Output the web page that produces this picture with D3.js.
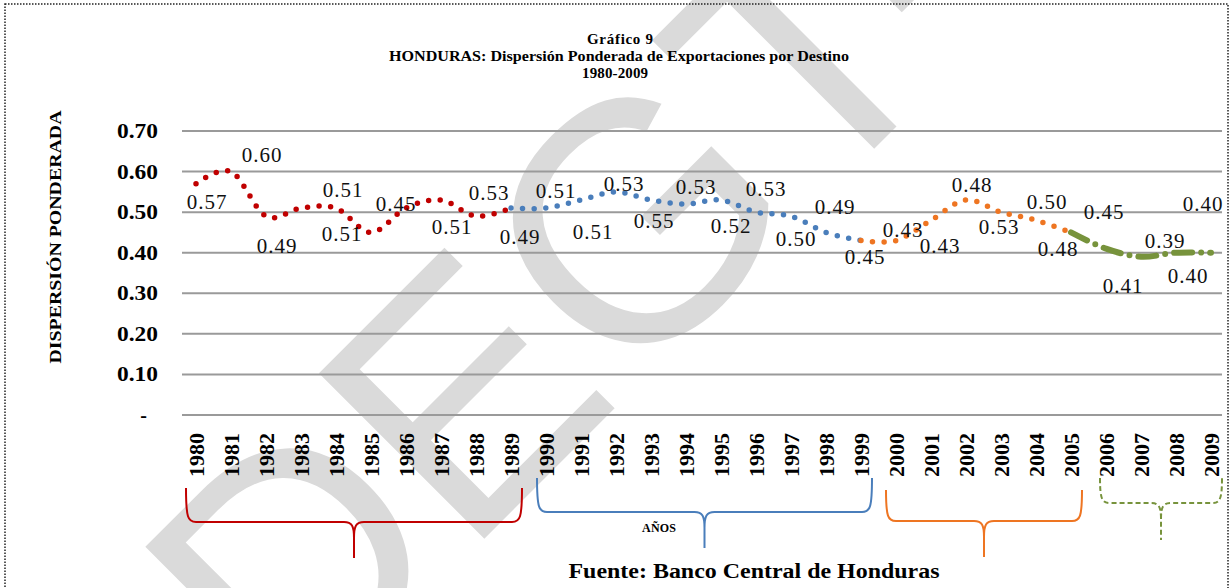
<!DOCTYPE html>
<html>
<head>
<meta charset="utf-8">
<script src="https://d3js.org/d3.v7.min.js"></script>
<style>
  body { margin: 0; background: #fff; }
  svg { display: block; }
</style>
</head>
<body>
<svg id="vis"></svg>
<script>
  // Data
  var years = ["1980","1981","1982","1983","1984","1985","1986","1987","1988","1989",
               "1990","1991","1992","1993","1994","1995","1996","1997","1998","1999",
               "2000","2001","2002","2003","2004","2005","2006","2007","2008","2009"];
  var dispersion = [0.57, 0.60, 0.49, 0.51, 0.51, 0.45, 0.51, 0.53, 0.49, 0.51,
                    0.51, 0.53, 0.55, 0.53, 0.52, 0.53, 0.50, 0.49, 0.45, 0.43,
                    0.43, 0.48, 0.53, 0.50, 0.48, 0.45, 0.41, 0.39, 0.40, 0.40];
  var yTicks = [0, 0.1, 0.2, 0.3, 0.4, 0.5, 0.6, 0.7];
  // line pieces (each one coloured on its own)
  var segmentStart = ["1980", "1989", "1999", "2005"];
  var segmentEnd   = ["1989", "1999", "2005", "2009"];
  // year groups under the axis
  var groupStart = ["1980", "1990", "2000", "2006"];
  var groupEnd   = ["1989", "1999", "2005", "2009"];

  // Styles / layout
  var colors = ["#c00000", "#4a7ebb", "#ee7522", "#77933c"];
  var dashes = ["0 11.6", "0 11.6", "0 11.6", "18 9 0 9"];
  // where each data label sits relative to its point (dx, dy)
  var labelNudge = [[11,18],[31,-17],[11,29],[42,-18],[6,26],[25,-29],[46,19],[48,-7],[44,20],[45,-17],
                    [47,24],[43,-16],[38,29],[45,-13],[45,22],[45,-11],[40,27],[44,-10],[39,24],[42,-11],
                    [44,5],[41,-36],[33,27],[46,-10],[22,28],[33,-21],[17,37],[24,-16],[12,23],[-8,-49]];

  var width = 1230, height = 588;
  var serif = "'Liberation Serif', 'Times New Roman', serif";

  var svg = d3.select("#vis")
      .attr("width", width)
      .attr("height", height);

  var x = d3.scalePoint().domain(years).range([196, 1211]);
  var y = d3.scaleLinear().domain([0, 0.7]).range([415, 131]);

  // watermark, runs off the page like in the original
  svg.append("text")
      .attr("transform", "translate(291,732) rotate(-45)")
      .attr("font-family", "'Liberation Sans', Arial, sans-serif")
      .attr("font-size", 340)
      .attr("fill", "#dadada")
      .text("DEGT-UI");

  // frame
  svg.append("rect")
      .attr("x", 5).attr("y", 4)
      .attr("width", 1223).attr("height", 600)
      .attr("fill", "none")
      .attr("stroke", "#222")
      .attr("stroke-width", 1.5)
      .attr("stroke-dasharray", "1.5 1.5");

  // title
  var title = svg.append("g")
      .attr("font-family", serif)
      .attr("font-weight", "bold")
      .attr("font-size", 15)
      .attr("text-anchor", "middle");
  title.append("text").attr("x", 620).attr("y", 44).attr("textLength", 66).text("Gráfico 9");
  title.append("text").attr("x", 619).attr("y", 61).attr("textLength", 460)
      .attr("lengthAdjust", "spacingAndGlyphs")
      .text("HONDURAS: Dispersión Ponderada de Exportaciones por Destino");
  title.append("text").attr("x", 615).attr("y", 78).attr("textLength", 66).text("1980-2009");

  // gridlines
  svg.selectAll("line.grid")
      .data(yTicks)
      .enter().append("line")
      .attr("class", "grid")
      .attr("x1", 182).attr("x2", 1222)
      .attr("y1", function(d) { return y(d); })
      .attr("y2", function(d) { return y(d); })
      .attr("stroke", "#9a9a9a")
      .attr("stroke-width", 2);

  // y tick labels
  svg.selectAll("text.ytick")
      .data(yTicks)
      .enter().append("text")
      .attr("class", "ytick")
      .attr("x", function(d) { return d === 0 ? 147 : 158; })
      .attr("y", function(d) { return y(d); })
      .attr("dy", "0.35em")
      .attr("text-anchor", "end")
      .attr("font-family", serif)
      .attr("font-weight", "bold")
      .attr("font-size", 20)
      .attr("textLength", function(d) { return d === 0 ? null : 41; })
      .attr("lengthAdjust", "spacingAndGlyphs")
      .text(function(d) { return d === 0 ? "-" : d.toFixed(2); });

  // y axis title
  svg.append("text")
      .attr("transform", "translate(61,237) rotate(-90)")
      .attr("text-anchor", "middle")
      .attr("font-family", serif)
      .attr("font-weight", "bold")
      .attr("font-size", 17)
      .attr("textLength", 253)
      .attr("lengthAdjust", "spacingAndGlyphs")
      .text("DISPERSIÓN PONDERADA");

  // year labels
  svg.selectAll("text.year")
      .data(years)
      .enter().append("text")
      .attr("class", "year")
      .attr("transform", function(d) { return "translate(" + x(d) + ",433) rotate(-90)"; })
      .attr("dy", "0.35em")
      .attr("text-anchor", "end")
      .attr("font-family", serif)
      .attr("font-weight", "bold")
      .attr("font-size", 22)
      .text(function(d) { return d; });

  // smoothed line pieces
  var points = years.map(function(yr, i) { return { year: yr, value: dispersion[i], idx: i }; });
  var line = d3.line()
      .x(function(d) { return x(d.year); })
      .y(function(d) { return y(d.value); })
      .curve(d3.curveCardinal.tension(0));

  segmentStart.forEach(function(s, k) {
    var a = years.indexOf(s), b = years.indexOf(segmentEnd[k]);
    svg.append("path")
        .datum(points.slice(a, b + 1))
        .attr("d", line)
        .attr("fill", "none")
        .attr("stroke", colors[k])
        .attr("stroke-width", k === 3 ? 6 : 5.5)
        .attr("stroke-linecap", "round")
        .attr("stroke-dasharray", dashes[k]);
  });

  // data labels
  svg.selectAll("text.val")
      .data(points)
      .enter().append("text")
      .attr("class", "val")
      .attr("x", function(d) { return x(d.year) + labelNudge[d.idx][0]; })
      .attr("y", function(d) { return y(d.value) + labelNudge[d.idx][1]; })
      .attr("dy", "0.35em")
      .attr("text-anchor", "middle")
      .attr("font-family", serif)
      .attr("font-size", 21)
      .attr("letter-spacing", 1)
      .attr("fill", "#111")
      .text(function(d) { return d.value.toFixed(2); });

  // braces under the year groups
  var braceTop = [488, 478, 490, 478];
  var braceMid = [522, 512, 521, 503];
  var braceTip = [558, 548, 557, 540];
  var bracePad = [10, 9, 10, 6];
  groupStart.forEach(function(s, k) {
    var x0 = x(s) - bracePad[k];
    var x1 = x(groupEnd[k]) + 11;
    var xm = (x0 + x1) / 2;
    var t = braceTop[k], m = braceMid[k], b = braceTip[k], r = 10;
    var d = "M" + x0 + "," + t +
            " C" + x0 + "," + (m - 4) + " " + (x0 + 2) + "," + m + " " + (x0 + r) + "," + m +
            " L" + (xm - r) + "," + m +
            " C" + (xm - 2) + "," + m + " " + xm + "," + (m + 4) + " " + xm + "," + (m + r + 6) +
            " L" + xm + "," + b +
            " M" + xm + "," + (m + r + 6) +
            " C" + xm + "," + (m + 4) + " " + (xm + 2) + "," + m + " " + (xm + r) + "," + m +
            " L" + (x1 - r) + "," + m +
            " C" + (x1 - 2) + "," + m + " " + x1 + "," + (m - 4) + " " + x1 + "," + t;
    svg.append("path")
        .attr("d", d)
        .attr("fill", "none")
        .attr("stroke", colors[k])
        .attr("stroke-width", 2)
        .attr("stroke-dasharray", k === 3 ? "5 3" : null);
  });

  svg.append("text")
      .attr("x", 659).attr("y", 532)
      .attr("text-anchor", "middle")
      .attr("font-family", serif)
      .attr("font-weight", "bold")
      .attr("font-size", 12)
      .attr("textLength", 34)
      .text("AÑOS");

  // source
  svg.append("text")
      .attr("x", 754).attr("y", 578)
      .attr("text-anchor", "middle")
      .attr("font-family", serif)
      .attr("font-weight", "bold")
      .attr("font-size", 20)
      .attr("textLength", 371)
      .attr("lengthAdjust", "spacingAndGlyphs")
      .text("Fuente: Banco Central de Honduras");
</script>
</body>
</html>
